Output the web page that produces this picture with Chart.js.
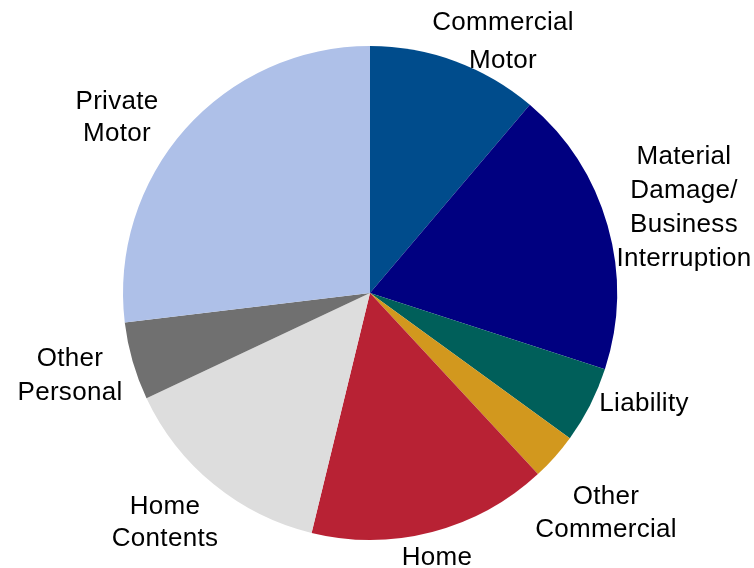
<!DOCTYPE html>
<html>
<head>
<meta charset="utf-8">
<script src="https://cdn.jsdelivr.net/npm/chart.js@4/dist/chart.umd.min.js"></script>
<style>
  html, body { margin: 0; padding: 0; background: #fff; }
  canvas { display: block; }
</style>
</head>
<body>
<canvas id="premium_pie" width="754" height="568"></canvas>
<script>
// segment names, clockwise from 12 o'clock
const segments = [
  ['Commercial', 'Motor'],
  ['Material', 'Damage/', 'Business', 'Interruption'],
  ['Liability'],
  ['Other', 'Commercial'],
  ['Home'],
  ['Home', 'Contents'],
  ['Other', 'Personal'],
  ['Private', 'Motor']
];

// share of total, %
const shares = [11.2, 18.8, 5.0, 3.1, 15.7, 14.2, 5.1, 26.9];

const sliceColors = [
  '#004c8c', '#000080', '#005f5a', '#d2981e',
  '#b82234', '#dddddd', '#707070', '#aec0e8'
];

// label block placement relative to the pie centre: [dx, dy, line gap]
const labelLayout = [
  [133, -251, 38],
  [314, -85, 34],
  [274, 111, 33],
  [236, 220, 33],
  [67, 265, 33],
  [-205, 230, 32],
  [-300, 83, 33.5],
  [-253, -175, 32]
];

const outsideLabels = {
  id: 'outsideLabels',
  afterDatasetsDraw(chart) {
    const ctx = chart.ctx;
    const arcs = chart.getDatasetMeta(0).data;
    ctx.save();
    ctx.fillStyle = '#000';
    ctx.font = '26px "Liberation Sans", Arial, sans-serif';
    ctx.letterSpacing = '0.3px';
    ctx.textAlign = 'center';
    ctx.textBaseline = 'middle';
    arcs.forEach((arc, i) => {
      const lines = chart.data.labels[i];
      const [dx, dy, gap] = labelLayout[i];
      const top = arc.y + dy - gap * (lines.length - 1) / 2;
      lines.forEach((line, j) => {
        ctx.fillText(line, arc.x + dx, top + j * gap);
      });
    });
    ctx.restore();
  }
};

const premium_pie_chart = new Chart(
  document.querySelector('#premium_pie'),
  {
    type: 'pie',
    data: {
      labels: segments,
      datasets: [{
        data: shares,
        backgroundColor: sliceColors,
        borderWidth: 0
      }]
    },
    options: {
      responsive: false,
      animation: false,
      layout: {
        padding: { left: 123, right: 137, top: 46, bottom: 28 }
      },
      plugins: {
        legend: { display: false },
        tooltip: { enabled: false }
      }
    },
    plugins: [outsideLabels]
  }
);
</script>
</body>
</html>
